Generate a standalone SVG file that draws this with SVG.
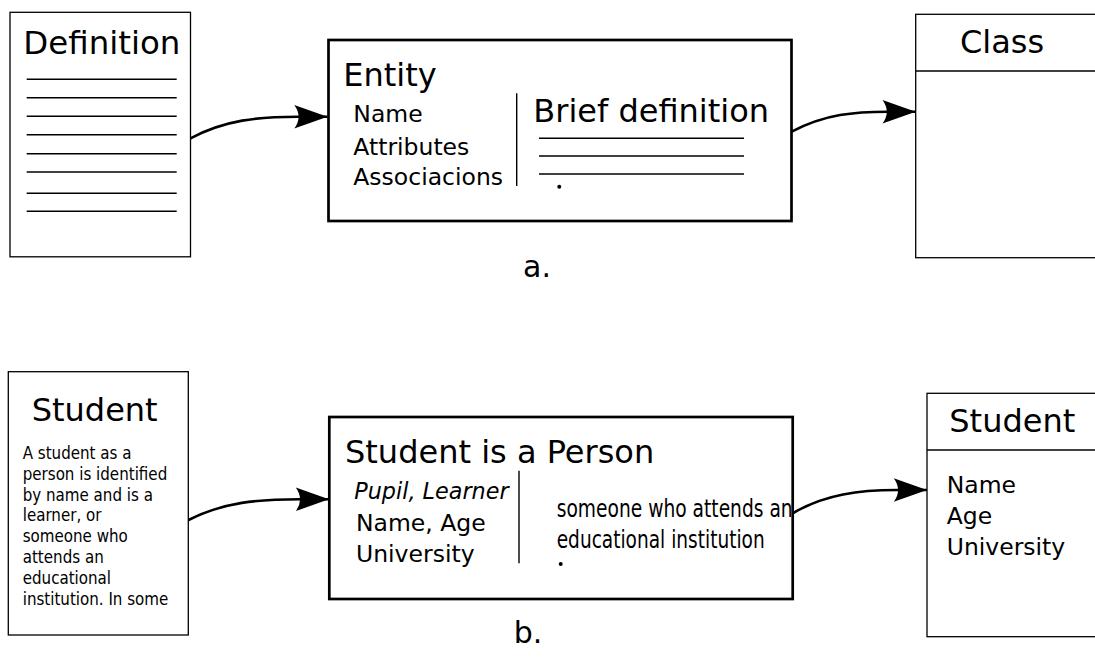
<svg xmlns="http://www.w3.org/2000/svg" width="1095" height="660" viewBox="0 0 1095 660">
<style>
  .thin { fill: #fff; stroke: #000; stroke-width: 1.3; }
  .thick { fill: #fff; stroke: #000; stroke-width: 2.7; }
  .rule { stroke: #000; stroke-width: 1.4; fill: none; }
  .t { font-family: "DejaVu Sans", "Noto Sans", sans-serif; fill: #000; }
  .h { font-size: 32px; }
  .m { font-size: 23.5px; }
  .s { font-family: "DejaVu Sans Condensed", "DejaVu Sans", sans-serif; font-stretch: condensed; font-size: 16.8px; fill: #000; }
  .conn { fill: none; stroke: #000; stroke-width: 2.6; }
</style>
<defs>
  <marker id="ah" markerUnits="userSpaceOnUse" markerWidth="40" markerHeight="30" viewBox="-34 -14 36 28" refX="0" refY="0" orient="auto">
    <path d="M0,0 Q-14,-5 -31,-11 Q-23,0 -31,11 Q-14,5 0,0 Z" fill="#000"/>
  </marker>
</defs>
<rect width="1095" height="660" fill="#fff"/>

<g id="definition">
  <rect class="thin" x="10" y="12.3" width="180.5" height="244.5"/>
  <text class="t h" x="23.3" y="54.3" textLength="157" lengthAdjust="spacingAndGlyphs">Definition</text>
  <g class="rule">
    <line x1="26.7" y1="79.3" x2="176.7" y2="79.3"/>
    <line x1="26.7" y1="97.7" x2="176.7" y2="97.7"/>
    <line x1="26.7" y1="116.3" x2="176.7" y2="116.3"/>
    <line x1="26.7" y1="134.7" x2="176.7" y2="134.7"/>
    <line x1="26.7" y1="153.7" x2="176.7" y2="153.7"/>
    <line x1="26.7" y1="172" x2="176.7" y2="172"/>
    <line x1="26.7" y1="193.3" x2="176.7" y2="193.3"/>
    <line x1="26.7" y1="211.3" x2="176.7" y2="211.3"/>
  </g>
</g>

<g id="entity">
  <rect class="thick" x="328.5" y="40" width="463" height="181"/>
  <text class="t h" x="343.3" y="86">Entity</text>
  <text class="t m" x="353.3" y="121.7">Name</text>
  <text class="t m" x="353.3" y="154.5">Attributes</text>
  <text class="t m" x="353.3" y="185">Associacions</text>
  <line class="rule" x1="516.7" y1="93.3" x2="516.7" y2="186"/>
  <text class="t h" x="533.3" y="121.7">Brief definition</text>
  <g class="rule">
    <line x1="539" y1="138.3" x2="744" y2="138.3"/>
    <line x1="539" y1="156" x2="744" y2="156"/>
    <line x1="539" y1="174" x2="744" y2="174"/>
  </g>
  <circle cx="559.3" cy="186.7" r="2" fill="#000"/>
</g>

<g id="class">
  <rect class="thin" x="915.7" y="14.3" width="190" height="243.4"/>
  <line class="rule" x1="915.7" y1="71" x2="1095" y2="71"/>
  <text class="t h" x="960" y="53.3">Class</text>
</g>

<g id="label-a">
  <text class="t" x="537" y="277" font-size="30" text-anchor="middle">a.</text>
</g>

<g id="student-def">
  <rect class="thin" x="8.3" y="371.7" width="180" height="263.3"/>
  <text class="t h" x="31.7" y="421">Student</text>
  <text class="s" x="22.7" y="459">A student as a</text>
  <text class="s" x="22.7" y="480">person is identified</text>
  <text class="s" x="22.7" y="500.5">by name and is a</text>
  <text class="s" x="22.7" y="521">learner, or</text>
  <text class="s" x="22.7" y="542">someone who</text>
  <text class="s" x="22.7" y="562.5">attends an</text>
  <text class="s" x="22.7" y="583.5">educational</text>
  <text class="s" x="22.7" y="605">institution. In some</text>
</g>

<g id="student-entity">
  <rect class="thick" x="329.3" y="417" width="463.4" height="182"/>
  <text class="t h" x="345" y="463.3">Student is a Person</text>
  <text class="t" x="354.3" y="499" font-size="22.3" font-style="italic">Pupil, Learner</text>
  <text class="t m" x="356" y="531">Name, Age</text>
  <text class="t m" x="356" y="561.7">University</text>
  <line class="rule" x1="519" y1="470.7" x2="519" y2="563.3"/>
  <text class="t" x="556.7" y="516.7" font-size="25" textLength="236" lengthAdjust="spacingAndGlyphs">someone who attends an</text>
  <text class="t" x="556.7" y="547.7" font-size="25" textLength="208" lengthAdjust="spacingAndGlyphs">educational institution</text>
  <circle cx="560.7" cy="564" r="2" fill="#000"/>
</g>

<g id="student-class">
  <rect class="thin" x="927" y="393.3" width="180" height="243.4"/>
  <line class="rule" x1="927" y1="450" x2="1095" y2="450"/>
  <text class="t h" x="949.3" y="431.7">Student</text>
  <text class="t m" x="946.7" y="493.3">Name</text>
  <text class="t m" x="946.7" y="524.3">Age</text>
  <text class="t m" x="946.7" y="555">University</text>
</g>

<g id="label-b">
  <text class="t" x="528" y="643" font-size="30" text-anchor="middle">b.</text>
</g>

<g id="connectors">
  <path class="conn" d="M190.5,138.3 C225,120 258,116.7 298,116.7 L327.5,116.7" marker-end="url(#ah)"/>
  <path class="conn" d="M791.7,131.7 C825,114 855,111.7 888,111.7 L915.7,111.7" marker-end="url(#ah)"/>
  <path class="conn" d="M188.5,520 C224,502 258,499.3 300,499.3 L329,499.3" marker-end="url(#ah)"/>
  <path class="conn" d="M792.7,513.3 C825,494 860,490 897,490 L927,490" marker-end="url(#ah)"/>
</g>
</svg>
